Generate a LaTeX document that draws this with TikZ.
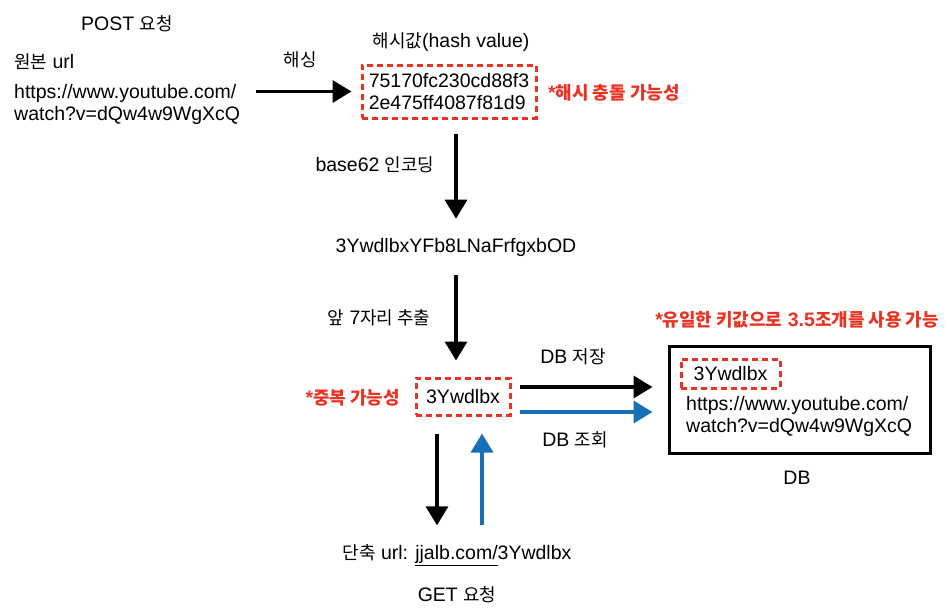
\documentclass[tikz,border=0pt]{standalone}
\usepackage{fontspec}
\setmainfont{Liberation Sans}
\newfontfamily\kr[Scale=0.92]{Noto Sans CJK KR}
\usetikzlibrary{arrows.meta}
\definecolor{notered}{RGB}{234,51,35}
\definecolor{lookblue}{RGB}{24,113,184}

\begin{document}
\begin{tikzpicture}[x = 1pt, y = -1pt,
        txt/.style = {inner sep = 0pt, font = \fontsize{19.5}{22}\selectfont},
        note/.style = {txt, text = notered, font = \fontsize{19.5}{22}\selectfont\bfseries},
        keybox/.style = {txt, draw = notered, line width = 3pt, dash pattern = on 6pt off 4pt},
        arr/.style = {line width = 3.5pt, -{Triangle[length = 19pt, width = 22pt]}}]
    \useasboundingbox (0, 0) rectangle (949, 614);
    % POST side
    \node[txt] (post) at (127, 24) {POST {\kr 요청}};
    \node[txt, anchor = west] (orig) at (14, 62) {{\kr 원본} url};
    \node[txt, anchor = west, align = left] (url) at (14, 104) {https://www.youtube.com/\\watch?v=dQw4w9WgXcQ};
    \node[txt] (hashing) at (300, 60) {\kr 해싱};
    \node[txt] (hashlbl) at (451, 42) {{\kr 해시값}(hash value)};
    \node[keybox, minimum width = 174pt, minimum height = 53pt, align = left] (hash) at (449, 91.5) {75170fc230cd88f3\\2e475ff4087f81d9};
    \node[note, anchor = west] (collide) at (548, 93) {*{\kr 해시 충돌 가능성}};
    \node[txt] (enclbl) at (375, 165) {base62 {\kr 인코딩}};
    \node[txt] (full) at (456, 247) {3YwdlbxYFb8LNaFrfgxbOD};
    \node[txt] (cutlbl) at (379, 318) {{\kr 앞} 7{\kr 자리 추출}};
    \node[keybox, minimum width = 94pt, minimum height = 37pt] (short) at (463, 396.5) {3Ywdlbx};
    \node[note, anchor = east] (dup) at (400, 398) {*{\kr 중복 가능성}};
    % DB side
    \node[note] (unique) at (797, 320) {*{\kr 유일한 키값으로} 3.5{\kr 조개를 사용 가능}};
    \node[draw, line width = 3pt, minimum width = 261pt, minimum height = 107pt] (db) at (799.5, 399.5) {};
    \node[keybox, minimum width = 99pt, minimum height = 29pt] (dbkey) at (730.5, 373.5) {3Ywdlbx};
    \node[txt, anchor = west, align = left] (dburl) at (686, 416) {https://www.youtube.com/\\watch?v=dQw4w9WgXcQ};
    \node[txt] (dblbl) at (797, 478) {DB};
    \node[txt] (savelbl) at (573, 357) {DB {\kr 저장}};
    \node[txt] (findlbl) at (575, 440) {DB {\kr 조회}};
    % GET side
    \node[txt] (shorturl) at (457, 555) {{\kr 단축} url: \underline{jjalb.com/}3Ywdlbx};
    \node[txt] (get) at (457, 595) {GET {\kr 요청}};
    % arrows
    \draw[arr, shorten <= 16pt, shorten >= 9pt] (url.east |- hash.west) -- (hash.west);
    \draw[arr, shorten <= 14pt, shorten >= 19pt] (hash.south -| full.north) -- (full.north);
    \draw[arr, shorten <= 19pt, shorten >= 16pt] (full.south) -- (full.south |- short.north);
    \draw[arr, shorten <= 8pt, shorten >= 15pt] ([yshift = 9.5pt]short.east) -- ([yshift = 9.5pt]short.east -| db.west);
    \draw[arr, lookblue, shorten <= 8pt, shorten >= 15pt] ([yshift = -15.5pt]short.east) -- ([yshift = -15.5pt]short.east -| db.west);
    \draw[arr, shorten <= 17pt, shorten >= 19pt] ([xshift = -26pt]short.south) -- ([xshift = -26pt]short.south |- shorturl.north);
    \draw[arr, lookblue, shorten <= 19pt, shorten >= 17pt] ([xshift = 19pt]short.south |- shorturl.north) -- ([xshift = 19pt]short.south);
\end{tikzpicture}
\end{document}
